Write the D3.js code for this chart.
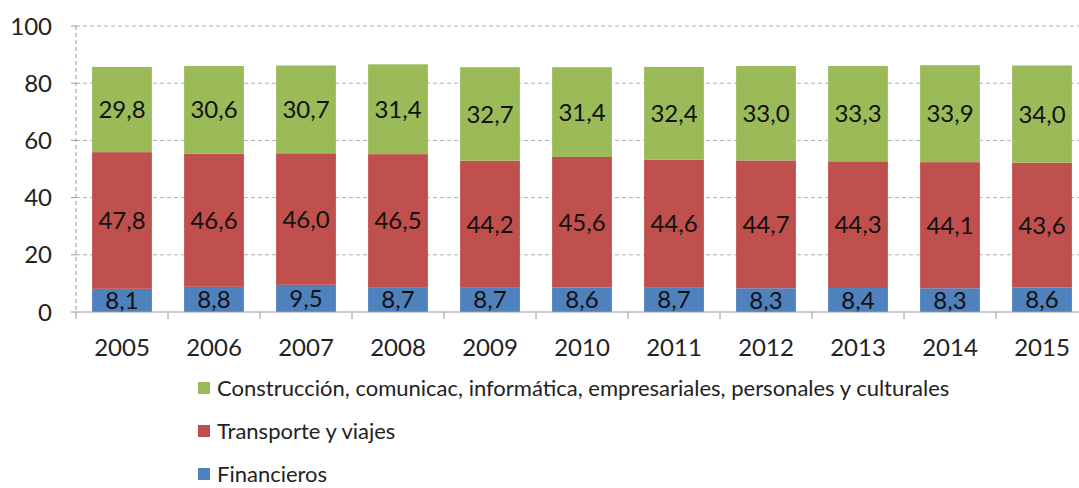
<!DOCTYPE html>
<html>
<head>
<meta charset="utf-8">
<script src="https://d3js.org/d3.v7.min.js"></script>
<style>
  body { margin: 0; background: #fff; }
  svg { display: block; font-family: Lato, "Open Sans", sans-serif; }
</style>
</head>
<body>
<svg width="1079" height="488"></svg>
<script>
// Chart data
const years = ['2005', '2006', '2007', '2008', '2009', '2010', '2011', '2012', '2013', '2014', '2015'];
const financieros = [8.1, 8.8, 9.5, 8.7, 8.7, 8.6, 8.7, 8.3, 8.4, 8.3, 8.6];
const transporte = [47.8, 46.6, 46.0, 46.5, 44.2, 45.6, 44.6, 44.7, 44.3, 44.1, 43.6];
const construccion = [29.8, 30.6, 30.7, 31.4, 32.7, 31.4, 32.4, 33.0, 33.3, 33.9, 34.0];
const seriesNames = ['Financieros', 'Transporte y viajes', 'Construcción, comunicac, informática, empresariales, personales y culturales'];
const yTicks = [0, 20, 40, 60, 80, 100];

const colors = ['#4F81BD', '#C0504D', '#9BBB59'];

const svg = d3.select('svg');
// plot area edges
const plotLeft = 76, plotRight = 1088, plotTop = 26, plotBottom = 312;

const x = d3.scaleBand().domain(years).range([plotLeft, plotRight]).paddingInner(0.35).paddingOuter(0.175);
const y = d3.scaleLinear().domain([0, 100]).range([plotBottom, plotTop]);

// Gridlines (dashed)
svg.append('g')
    .selectAll('line')
    .data(yTicks.filter(d => d > 0))
    .join('line')
    .attr('x1', plotLeft).attr('x2', plotRight)
    .attr('y1', d => y(d)).attr('y2', d => y(d))
    .attr('stroke', '#b0b0b0')
    .attr('stroke-dasharray', '4,3');

// Y axis line, dashed like the grid
svg.append('line')
    .attr('x1', plotLeft).attr('x2', plotLeft)
    .attr('y1', plotTop).attr('y2', plotBottom)
    .attr('stroke', '#9a9a9a')
    .attr('stroke-dasharray', '4,3');

// Build stacked data
const table = years.map((yr, i) => ({ year: yr, s0: financieros[i], s1: transporte[i], s2: construccion[i] }));
const stacked = d3.stack().keys(['s0', 's1', 's2'])(table);

const layers = svg.append('g')
    .selectAll('g')
    .data(stacked)
    .join('g')
    .attr('fill', (d, i) => colors[i]);

layers.selectAll('rect')
    .data(d => d)
    .join('rect')
    .attr('x', d => x(d.data.year))
    .attr('width', x.bandwidth())
    .attr('y', d => y(d[1]))
    .attr('height', d => y(d[0]) - y(d[1]));

// Segment labels
const fmt = v => v.toFixed(1).replace('.', ',');
layers.selectAll('text')
    .data(d => d)
    .join('text')
    .attr('x', d => x(d.data.year) + x.bandwidth() / 2)
    .attr('y', d => (y(d[0]) + y(d[1])) / 2)
    .attr('dy', '0.36em')
    .attr('text-anchor', 'middle')
    .attr('fill', '#111')
    .attr('font-size', 24)
    .text(d => fmt(d[1] - d[0]));

// X axis
const xAxis = svg.append('g');
xAxis.append('line')
    .attr('x1', plotLeft).attr('x2', plotRight)
    .attr('y1', plotBottom).attr('y2', plotBottom)
    .attr('stroke', '#9a9a9a');
xAxis.selectAll('line.tick')
    .data(d3.range(years.length + 1))
    .join('line')
    .attr('class', 'tick')
    .attr('x1', i => plotLeft + i * x.step()).attr('x2', i => plotLeft + i * x.step())
    .attr('y1', plotBottom).attr('y2', plotBottom + 7)
    .attr('stroke', '#9a9a9a');
xAxis.selectAll('text')
    .data(years)
    .join('text')
    .attr('x', d => x(d) + x.bandwidth() / 2)
    .attr('y', plotBottom + 44)
    .attr('text-anchor', 'middle')
    .attr('font-size', 24)
    .attr('fill', '#222')
    .text(d => d);

// Y axis labels and small ticks
const yAxis = svg.append('g');
yAxis.selectAll('line')
    .data(yTicks)
    .join('line')
    .attr('x1', plotLeft - 5).attr('x2', plotLeft)
    .attr('y1', d => y(d)).attr('y2', d => y(d))
    .attr('stroke', '#9a9a9a');
yAxis.selectAll('text')
    .data(yTicks)
    .join('text')
    .attr('x', 52)
    .attr('y', d => y(d))
    .attr('dy', '0.36em')
    .attr('text-anchor', 'end')
    .attr('font-size', 24)
    .attr('fill', '#222')
    .text(d => d);

// Legend, top entry is the top series
const legendOrder = [2, 1, 0];
const legend = svg.append('g')
    .selectAll('g')
    .data(legendOrder)
    .join('g')
    .attr('transform', (d, i) => `translate(198, ${388 + i * 43})`);
legend.append('rect')
    .attr('x', 0).attr('y', -6)
    .attr('width', 12).attr('height', 12)
    .attr('fill', d => colors[d]);
legend.append('text')
    .attr('x', 19)
    .attr('dy', '0.36em')
    .attr('font-size', 22)
    .attr('fill', '#222')
    .text(d => seriesNames[d]);
</script>
</body>
</html>
